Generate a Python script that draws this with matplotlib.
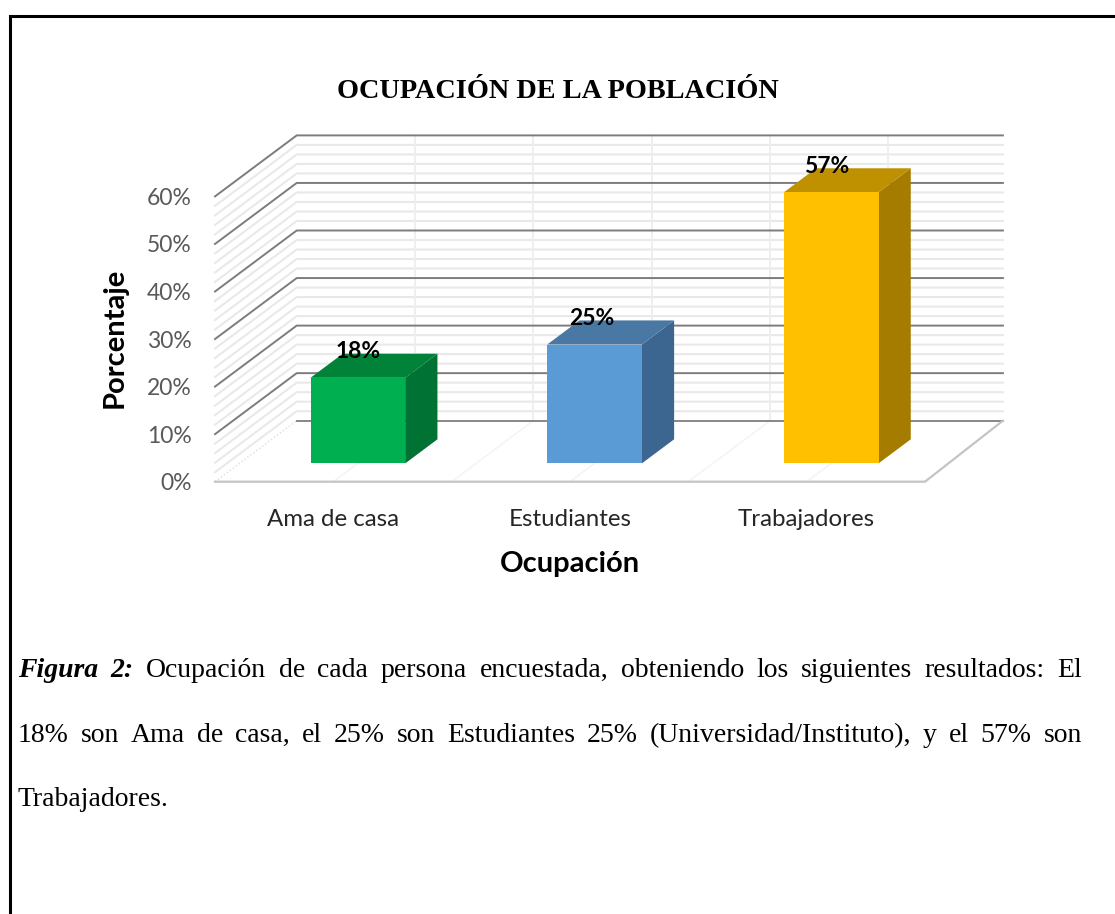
"""Grafico 3D de barras: ocupacion de la poblacion, con leyenda de figura."""

import matplotlib

matplotlib.use("Agg")
import matplotlib.pyplot as plt
from matplotlib.patches import Polygon
from matplotlib.ticker import FuncFormatter

W, H = 1115, 914

categorias = ["Ama de casa", "Estudiantes", "Trabajadores"]
porcentajes = [18, 25, 57]
etiquetas = ["18%", "25%", "57%"]
ticks_y = [0, 10, 20, 30, 40, 50, 60]
ticks_menores = [v for v in range(0, 61, 2) if v % 10 != 0]

colores_frente = ["#00b050", "#5b9bd5", "#ffc000"]
colores_arriba = ["#008238", "#4a78a5", "#bf9000"]
colores_lado = ["#007233", "#3c6690", "#a67c00"]

titulo = "OCUPACIÓN DE LA POBLACIÓN"
lineas_leyenda = [
    "Ocupación de cada persona encuestada, obteniendo los siguientes resultados: El",
    "18% son Ama de casa, el 25% son Estudiantes 25% (Universidad/Instituto), y el 57% son",
    "Trabajadores.",
]

# vector de profundidad del piso en unidades de datos
DX = 81.7 / 236.67
DY = 61.0 / 4.755
Z_FRENTE = 0.30
Z_FONDO = 0.695
ANCHO = 0.40
# la pared de fondo termina un poco antes por la perspectiva
X_DER_FONDO = 2.484


def proy(x, y, z):
    return (x + DX * z, y + DY * z)


def linea_justificada(fig, renderer, partes, y, x0=None, x1=None):
    """Coloca palabras una por una; si hay x1 reparte el espacio sobrante."""
    textos = []
    for palabra, estilo in partes:
        t = fig.text(0, 1 - y / H, palabra, fontsize=20, family="Liberation Serif",
                     va="baseline", color="black", **estilo)
        textos.append(t)
    anchos = [t.get_window_extent(renderer).width for t in textos]
    if x1 is None or len(textos) < 2:
        hueco = 5
    else:
        hueco = (x1 - x0 - sum(anchos)) / (len(textos) - 1)
    x = x0
    for t, a in zip(textos, anchos):
        t.set_x(x / W)
        x += a + hueco


def main():
    fig = plt.figure(figsize=(W / 100, H / 100), dpi=100, facecolor="white")

    # marco de la hoja: solo arriba e izquierda quedan dentro de la imagen
    fondo = fig.add_axes([0, 0, 1, 1], zorder=0)
    fondo.set_xlim(0, W)
    fondo.set_ylim(H, 0)
    fondo.axis("off")
    fondo.plot([9.5, 9.5, W], [H, 15.5, 15.5], color="black", lw=2.2, solid_joinstyle="miter")

    ax = fig.add_axes([215 / W, 1 - 481.7 / H, 710 / W, 285.3 / H], zorder=1)
    ax.set_xlim(-0.5, 2.5)
    ax.set_ylim(0, 60)
    for s in ax.spines.values():
        s.set_visible(False)
    ax.patch.set_alpha(0)

    # rejilla menor en pared de fondo y pared izquierda
    for v in ticks_menores:
        pts = [proy(-0.5, v, 0), proy(-0.5, v, 1), proy(X_DER_FONDO, v, 1)]
        ax.plot(*zip(*pts), color="#e9e9e9", lw=1.5, clip_on=False, zorder=1)

    # verticales claras de la pared y del piso
    for i in range(1, 6):
        x = -0.5 + i * 0.5
        ax.plot(*zip(proy(x, 0, 1), proy(x, 60, 1)), color="#eeeeee", lw=1.3, clip_on=False, zorder=1)
        ax.plot(*zip(proy(x, 0, 0), proy(x, 0, 1)), color="#f3f3f3", lw=1.0, clip_on=False, zorder=1)

    # rejilla mayor
    for v in ticks_y[1:]:
        pts = [proy(-0.5, v, 0), proy(-0.5, v, 1), proy(X_DER_FONDO, v, 1)]
        ax.plot(*zip(*pts), color="#7f7b7b", lw=1.4, clip_on=False, zorder=2)
    ax.plot(*zip(proy(-0.5, 0, 1), proy(X_DER_FONDO, 0, 1)), color="#8a8686", lw=1.4, clip_on=False, zorder=2)
    ax.plot(*zip(proy(-0.5, 0, 0), proy(-0.5, 0, 1)), color="#dddddd", lw=1.0, ls=":", clip_on=False, zorder=2)

    # piso
    ax.plot(*zip(proy(-0.5, 0, 0), proy(2.5, 0, 0), proy(X_DER_FONDO, 0, 1)), color="#c4c4c4", lw=1.6,
            clip_on=False, zorder=2)

    # barras
    for i, v in enumerate(porcentajes):
        x0, x1 = i - ANCHO * 0.5, i + ANCHO * 0.5
        frente = [proy(x0, 0, Z_FRENTE), proy(x1, 0, Z_FRENTE), proy(x1, v, Z_FRENTE), proy(x0, v, Z_FRENTE)]
        arriba = [proy(x0, v, Z_FRENTE), proy(x1, v, Z_FRENTE), proy(x1, v, Z_FONDO), proy(x0, v, Z_FONDO)]
        lado = [proy(x1, 0, Z_FRENTE), proy(x1, 0, Z_FONDO), proy(x1, v, Z_FONDO), proy(x1, v, Z_FRENTE)]
        ax.add_patch(Polygon(lado, facecolor=colores_lado[i], edgecolor="none", clip_on=False, zorder=3))
        ax.add_patch(Polygon(arriba, facecolor=colores_arriba[i], edgecolor="none", clip_on=False, zorder=3))
        ax.add_patch(Polygon(frente, facecolor=colores_frente[i], edgecolor="none", clip_on=False, zorder=4))
        xt, yt = proy(i, v, (Z_FRENTE + Z_FONDO) / 2)
        ax.annotate(etiquetas[i], (xt, yt), xytext=(-16 - 2.5 * i, 14), textcoords="offset pixels",
                    ha="center", va="center", fontsize=16.5, fontweight="bold", family="Lato", color="black",
                    zorder=5, annotation_clip=False)

    ax.set_yticks(ticks_y)
    ax.yaxis.set_major_formatter(FuncFormatter(lambda v, _: f"{v:.0f}%"))
    ax.set_xticks(range(len(categorias)), categorias)
    ax.tick_params(axis="both", length=0)
    ax.tick_params(axis="y", pad=17, labelsize=16.5, labelcolor="#595959")
    ax.tick_params(axis="x", pad=19.5, labelsize=17.3, labelcolor="#262626")
    for t in ax.get_yticklabels() + ax.get_xticklabels():
        t.set_family("Lato")

    ax.set_xlabel("Ocupación", fontsize=21, fontweight="bold", family="Lato", color="black", labelpad=15.5)
    ax.set_ylabel("Porcentaje", fontsize=21, fontweight="bold", family="Lato", color="black")
    ax.yaxis.set_label_coords((128 - 215) / 710, (481.7 - 338) / 285.3)

    fig.text(557.5 / W, 1 - 98 / H, titulo, ha="center", va="baseline", fontsize=20.3, fontweight="bold",
             family="Liberation Serif", color="black")

    # leyenda justificada, palabra por palabra
    renderer = fig.canvas.get_renderer()
    normal = {}
    partes1 = [("Figura", {"style": "italic", "weight": "bold"}), ("2:", {"style": "italic", "weight": "bold"})]
    partes1 += [(p, normal) for p in lineas_leyenda[0].split()]
    partes2 = [(p, normal) for p in lineas_leyenda[1].split()]
    partes3 = [(p, normal) for p in lineas_leyenda[2].split()]
    linea_justificada(fig, renderer, partes1, 677, 18, 1082)
    linea_justificada(fig, renderer, partes2, 742, 18, 1082)
    linea_justificada(fig, renderer, partes3, 806, 18)

    fig.savefig("out.png", dpi=100, facecolor="white")
    plt.close(fig)


if __name__ == "__main__":
    main()
